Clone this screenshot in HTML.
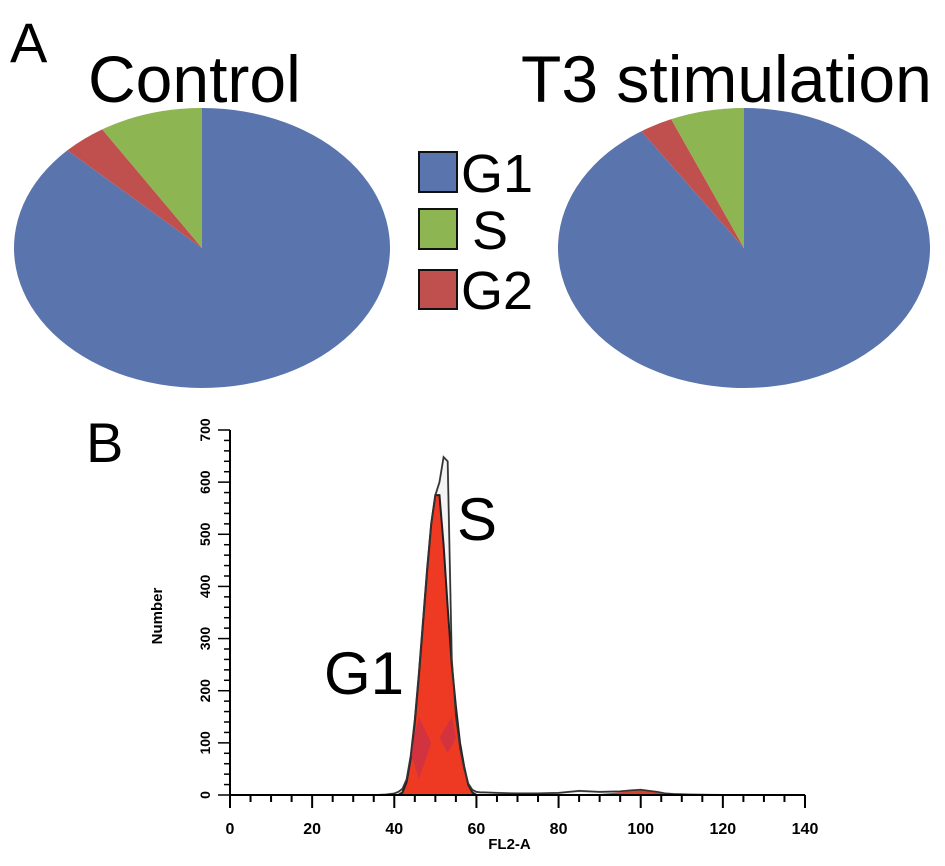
<!DOCTYPE html>
<html><head><meta charset="utf-8">
<style>
html,body{margin:0;padding:0;background:#fff;}
svg{display:block;font-family:"Liberation Sans",Arial,sans-serif;}
</style></head>
<body>
<svg id="fig" width="945" height="866" viewBox="0 0 945 866" xmlns="http://www.w3.org/2000/svg">
  <text x="10" y="62" font-size="56">A</text>
  <text x="88" y="102" font-size="66">Control</text>
  <text x="521" y="102" font-size="66">T3 stimulation</text>
  <g id="pies"></g>
  <g>
    <rect x="419" y="152" width="38" height="40" fill="#5a74ad" stroke="#111" stroke-width="2"/>
    <text x="461" y="192" font-size="54">G1</text>
    <rect x="419" y="209" width="38" height="40" fill="#8db552" stroke="#111" stroke-width="2"/>
    <text x="472" y="249" font-size="54">S</text>
    <rect x="419" y="270" width="38" height="39" fill="#c0504d" stroke="#111" stroke-width="2"/>
    <text x="461" y="309" font-size="54">G2</text>
  </g>
  <text x="86" y="462" font-size="56">B</text>
  <g id="hist"></g>
  <text x="324" y="694" font-size="60">G1</text>
  <text x="457" y="540" font-size="60">S</text>
</svg>
<script>
// Pie data (percent)
const pieCategories = ["G1", "G2", "S"];
const controlValues = [87.3, 3.8, 8.9];
const t3Values = [90.7, 2.9, 6.4];
const pieColors = ["#5a74ad", "#c0504d", "#8db552"];

// Histogram data
const histX = [0,36,38,40,41,42,43,44,45,46,47,48,49,50,51,52,53,54,55,56,57,58,59,60,61,62,65,70,75,80,85,90,95,98,100,102,104,106,108,112,120,140];
const g1FitValues = [0,0,0,0,0,5,25,70,140,230,330,430,520,575,575,480,360,250,170,100,55,20,5,0,0,0,0,0,0,0,0,0,0,0,0,0,0,0,0,0,0,0];
const totalValues = [0,0,1,3,6,12,30,75,145,235,335,435,520,575,600,648,640,260,150,90,50,22,10,6,5,5,4,3,3,4,8,6,7,9,10,8,6,3,2,1,0,0];
const g2FitValues = [0,0,0,0,0,0,0,0,0,0,0,0,0,0,0,0,0,0,0,0,0,0,0,0,0,0,0,0,0,0,0,2,5,8,9,8,5,2,0,0,0,0];
const xTicks = [0,20,40,60,80,100,120,140];
const yTicks = [0,100,200,300,400,500,600,700];

const NS = "http://www.w3.org/2000/svg";
function mk(tag, attrs, parent){ const e=document.createElementNS(NS,tag); for(const k in attrs) e.setAttribute(k,attrs[k]); parent.appendChild(e); return e; }

function drawPie(cx, cy, rx, ry, values, name){
  const g = document.getElementById('pies');
  const total = values.reduce((a,b)=>a+b,0);
  let a0 = 0;
  values.forEach((v,i)=>{
    const a1 = a0 + v/total*2*Math.PI;
    const x0 = cx + rx*Math.sin(a0), y0 = cy - ry*Math.cos(a0);
    const x1 = cx + rx*Math.sin(a1), y1 = cy - ry*Math.cos(a1);
    const large = (a1-a0) > Math.PI ? 1 : 0;
    const p = mk('path', {d:`M${cx},${cy} L${x0},${y0} A${rx},${ry} 0 ${large} 1 ${x1},${y1} Z`, fill:pieColors[i]}, g);
    
    
    a0 = a1;
  });
}
drawPie(202, 248, 188, 140, controlValues, 'control-pie');
drawPie(744, 248, 186, 140, t3Values, 't3-pie');

// Histogram axes
const X0=230, X1=805, Y0=795, Y1=430;
const sx = v => X0 + v*(X1-X0)/140;
const sy = v => Y0 - v*(Y0-Y1)/700;
const h = document.getElementById('hist');

function areaPath(vals){
  let d = `M${sx(histX[0])},${sy(0)}`;
  histX.forEach((x,i)=>{ d += ` L${sx(x)},${sy(vals[i])}`; });
  d += ` L${sx(histX[histX.length-1])},${sy(0)} Z`;
  return d;
}
function linePath(vals){
  return histX.map((x,i)=>(i?'L':'M')+sx(x)+','+sy(vals[i])).join(' ');
}
const tot = mk('path',{d:areaPath(totalValues),fill:"#f4f4f4",stroke:"#888",'stroke-width':2},h);


const g1 = mk('path',{d:areaPath(g1FitValues),fill:"#ee3a22",stroke:"#222",'stroke-width':2},h);


const sh1 = mk('path',{d:`M${sx(46)},${sy(30)} L${sx(49)},${sy(100)} L${sx(46)},${sy(150)} L${sx(44)},${sy(80)} Z`,fill:"#c8304a",opacity:0.7},h);


const sh2 = mk('path',{d:`M${sx(51)},${sy(110)} L${sx(54)},${sy(150)} L${sx(55)},${sy(110)} L${sx(53)},${sy(80)} Z`,fill:"#c8304a",opacity:0.7},h);


const g2 = mk('path',{d:areaPath(g2FitValues),fill:"#d8402a"},h);


const tl = mk('path',{d:linePath(totalValues),fill:"none",stroke:"#333",'stroke-width':1.5},h);



// axes lines
const ax = mk('line',{x1:X0,y1:Y0,x2:X1,y2:Y0,stroke:"#000",'stroke-width':2},h);


const ay = mk('line',{x1:X0,y1:Y0,x2:X0,y2:Y1,stroke:"#000",'stroke-width':2},h);


for(let v=0; v<=140; v+=5){
  const big = v%20===0;
  const t = mk('line',{x1:sx(v),y1:Y0,x2:sx(v),y2:Y0+(big?13:7),stroke:"#000",'stroke-width':2},h);
  
  
}
for(let v=0; v<=700; v+=20){
  const big = v%100===0;
  const t = mk('line',{x1:X0-(big?12:6),y1:sy(v),x2:X0,y2:sy(v),stroke:"#000",'stroke-width':1.5},h);
  
  
}
xTicks.forEach(v=>{
  const t = mk('text',{x:sx(v),y:Y0+39,'font-size':16,'font-weight':600,'text-anchor':'middle'},h);
  t.textContent = v;
  
  
});
yTicks.forEach(v=>{
  const t = mk('text',{x:0,y:0,'font-size':14,'font-weight':600,'text-anchor':'middle',transform:`translate(${X0-20},${sy(v)}) rotate(-90)`},h);
  t.textContent = v;
  
  
});
const xt = mk('text',{x:(X0+X1)/2-8,y:849,'font-size':15,'font-weight':600,'text-anchor':'middle'},h);
xt.textContent='FL2-A';


const yt = mk('text',{x:0,y:0,'font-size':15,'font-weight':600,'text-anchor':'middle',transform:`translate(162,616) rotate(-90)`},h);
yt.textContent='Number';


</script>
</body></html>
